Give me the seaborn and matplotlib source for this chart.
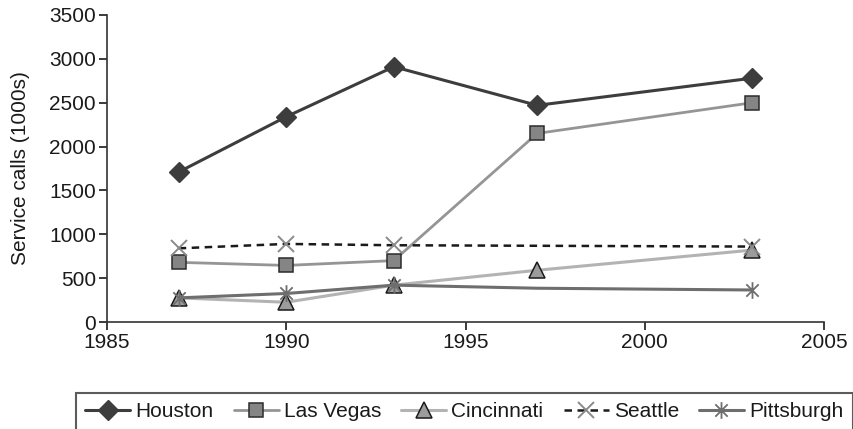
import numpy as np
import pandas as pd
import matplotlib
matplotlib.use("Agg")
import matplotlib.pyplot as plt
from matplotlib.path import Path
import seaborn as sns

# Annual service calls (thousands) by city
years = [1987, 1990, 1993, 1997, 2003]
houston = [1710, 2340, 2910, 2470, 2780]
las_vegas = [680, 645, 700, 2150, 2500]
cincinnati = [275, 225, 420, 590, 820]
seattle_years = [1987, 1990, 1993, 2003]
seattle = [840, 890, 875, 860]
pittsburgh = [275, 325, 420, 385, 365]

x_ticks = [1985, 1990, 1995, 2000, 2005]
y_ticks = [0, 500, 1000, 1500, 2000, 2500, 3000, 3500]
y_label = "Service calls (1000s)"

sns.set_style("ticks")
plt.rcParams["font.family"] = ["Liberation Sans", "DejaVu Sans"]
FS = 15

fig = plt.figure(figsize=(8.54, 4.29), dpi=100)
ax = fig.add_axes([107 / 854, 1 - 322 / 429, (824 - 107) / 854, (322 - 15) / 429])

# Star marker: an X crossed by a vertical stroke
star = Path(
    [(-1, -1), (1, 1), (-1, 1), (1, -1), (0, -1.35), (0, 1.35)],
    [Path.MOVETO, Path.LINETO, Path.MOVETO, Path.LINETO, Path.MOVETO, Path.LINETO],
)

sns.lineplot(x=years, y=houston, ax=ax, label="Houston", color="#3d3d3d", lw=2.2,
             marker="D", markersize=10, markerfacecolor="#3d3d3d",
             markeredgecolor="#3d3d3d", markeredgewidth=1)
sns.lineplot(x=years, y=las_vegas, ax=ax, label="Las Vegas", color="#959595", lw=2.0,
             marker="s", markersize=10.5, markerfacecolor="#858585",
             markeredgecolor="#2b2b2b", markeredgewidth=1.1)
sns.lineplot(x=years, y=cincinnati, ax=ax, label="Cincinnati", color="#b3b3b3", lw=2.2,
             marker="^", markersize=12, markerfacecolor="#9c9c9c",
             markeredgecolor="#1a1a1a", markeredgewidth=1.1)
sns.lineplot(x=seattle_years, y=seattle, ax=ax, label="Seattle", color="#1a1a1a", lw=1.8,
             linestyle=(0, (3, 2.2)), marker="x", markersize=11,
             markeredgecolor="#8a8a8a", markeredgewidth=1.4)
sns.lineplot(x=years, y=pittsburgh, ax=ax, label="Pittsburgh", color="#6e6e6e", lw=2.2,
             marker=star, markersize=12, markeredgecolor="#6e6e6e",
             markeredgewidth=1.3, markevery=[0, 1, 2, 4])

ax.set_xlim(1985, 2005)
ax.set_ylim(0, 3500)
ax.set_xticks(x_ticks)
ax.set_yticks(y_ticks)
ax.tick_params(axis="both", labelsize=FS, colors="#1a1a1a", length=6, width=1.2,
               direction="out", pad=2)
ax.set_xlabel("")
ax.set_ylabel(y_label, fontsize=FS, color="#1a1a1a")
ax.yaxis.set_label_coords(-0.108, 0.5)
for side in ("top", "right"):
    ax.spines[side].set_visible(False)
for side in ("left", "bottom"):
    ax.spines[side].set_color("#333333")
    ax.spines[side].set_linewidth(1.2)

ax.get_legend().remove()
handles, labels = ax.get_legend_handles_labels()
leg = fig.legend(handles, labels, loc="upper left", ncol=5,
                 bbox_to_anchor=(76 / 854, 1 - 393 / 429),
                 bbox_transform=fig.transFigure, fontsize=FS, frameon=True,
                 fancybox=False, edgecolor="#333333", handlelength=2.16,
                 handletextpad=0.25, columnspacing=0.96, borderpad=0.45,
                 borderaxespad=0)
leg.get_frame().set_linewidth(1.5)
for t in leg.get_texts():
    t.set_color("#1a1a1a")

fig.savefig("out.png", dpi=100)
